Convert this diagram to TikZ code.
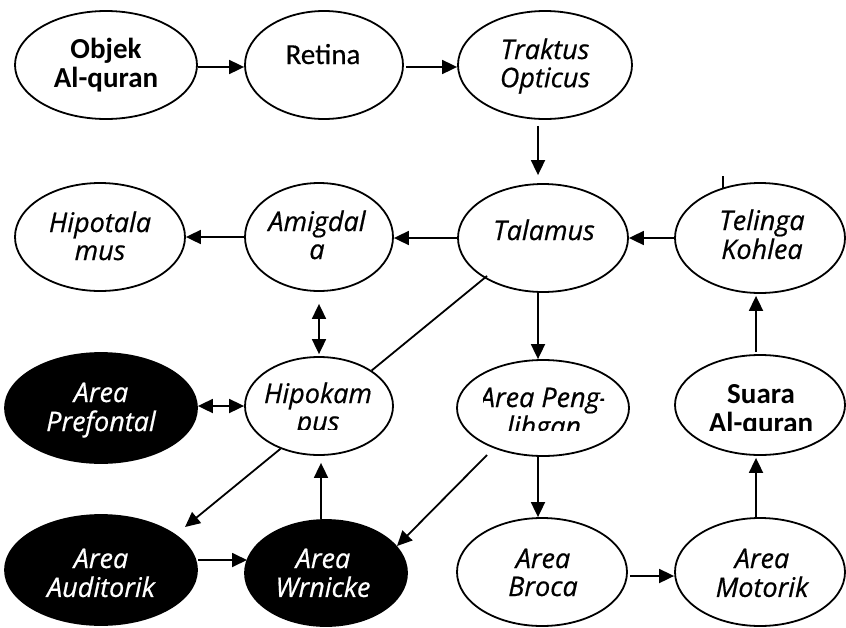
\documentclass[tikz,border=0pt]{standalone}
\usepackage{fontspec}
\setmainfont{Carlito}[UprightFeatures={FakeBold=0.4}]
\newfontfamily\osf{Open Sans}[ItalicFeatures={FakeBold=0.6}]
\usetikzlibrary{arrows.meta,calc,shapes.geometric}
\tikzset{
  ell/.style={ellipse, draw=black, line width=1.8pt, fill=white, inner sep=0pt},
  dark/.style={ell, fill=black},
  ln/.style={line width=1.8pt},
  arr/.style={ln, -{Triangle[length=15pt,width=14pt]}},
  darr/.style={ln, {Triangle[length=15pt,width=14pt]}-{Triangle[length=15pt,width=14pt]}},
  rt/.style={inner sep=0pt, anchor=base, font=\fontsize{29}{29}\selectfont},
  bt/.style={inner sep=0pt, anchor=base, font=\fontsize{29}{29}\selectfont\bfseries},
  it/.style={inner sep=0pt, anchor=base, font=\osf\itshape\fontsize{27}{28}\selectfont},
  wit/.style={it, text=white},
}
\newcommand\twol[2]{\begin{tabular}[t]{@{}c@{}}#1\\#2\end{tabular}}
\begin{document}
\begin{tikzpicture}[x=1pt,y=-1pt]
\fill[white] (0,0) rectangle (846,627);
\useasboundingbox (0,0) rectangle (846,627);

% ellipses
\node[ell, minimum width=182pt, minimum height=108pt] (objek) at (106,65) {};
\node[ell, minimum width=158pt, minimum height=108pt] (retina) at (324,65) {};
\node[ell, minimum width=174pt, minimum height=108pt] (trak) at (545,65) {};
\node[ell, minimum width=170pt, minimum height=108pt] (hipot) at (100,237) {};
\node[ell, minimum width=148pt, minimum height=108pt] (amig) at (319,237) {};
\node[ell, minimum width=170pt, minimum height=108pt] (tala) at (543,238) {};
\node[ell, minimum width=170pt, minimum height=110pt] (teli) at (760,238) {};
\node[dark, minimum width=192pt, minimum height=110pt] (pref) at (101,408) {};
\node[ell, minimum width=148pt, minimum height=98pt] (hipok) at (319,406) {};
\node[ell, minimum width=172pt, minimum height=96pt] (peng) at (543,408) {};
\node[ell, minimum width=170pt, minimum height=100pt] (suara) at (760,405) {};
\node[dark, minimum width=192pt, minimum height=110pt] (audi) at (101,570) {};
\node[dark, minimum width=162pt, minimum height=106pt] (wrn) at (326,573) {};
\node[ell, minimum width=170pt, minimum height=108pt] (broca) at (542,572) {};
\node[ell, minimum width=170pt, minimum height=108pt] (motor) at (760,572) {};

% texts
\node[bt] (t-objek) at (106,58) {\twol{Objek}{Al-quran}};
\node[rt] (t-retina) at (323,64) {Retina};
\node[it] (t-trak) at (545,59) {\twol{Traktus}{Opticus}};
\node[it] (t-hipot) at (100,232) {\twol{Hipotala}{mus}};
\node[it] (t-amig) at (317,231) {\twol{Amigdal}{a}};
\node[it] (t-tala) at (544,240) {Talamus};
\node[it] (t-teli) at (762,230) {\twol{Telinga}{Kohlea}};
\node[wit] (t-pref) at (101,402) {\twol{Area}{Prefontal}};
\begin{scope}
  \clip (240,340) rectangle (400,429);
  \node[it] (t-hipok) at (318,403) {\twol{Hipokam}{pus}};
\end{scope}
\begin{scope}
  \clip (483,340) rectangle (604,430);
  \node[it] (t-peng) at (544,407) {\twol{Area Peng-}{lihgan}};
\end{scope}
\begin{scope}
  \clip (670,340) rectangle (846,430);
  \node[bt] (t-suara) at (761,403) {\twol{Suara}{Al-quran}};
\end{scope}
\node[wit] (t-audi) at (101,568) {\twol{Area}{Auditorik}};
\node[wit] (t-wrn) at (323,568) {\twol{Area}{Wrnicke}};
\node[it] (t-broca) at (543,568) {\twol{Area}{Broca}};
\node[it] (t-motor) at (762,568) {\twol{Area}{Motorik}};

% connectors
\draw[arr] ($(objek.east)+(0,2)$) -- ($(retina.west)+(0,2)$);
\draw[arr] ($(retina.east)+(2,2)$) -- ($(trak.west)+(0,2)$);
\draw[arr] ($(trak.south)+(-7,6)$) -- ($(tala.north)+(-5,-8)$);
\draw[arr] (tala.west) -- (amig.east |- tala.west);
\draw[arr] (amig.west) -- (hipot.east);
\draw[arr] (teli.west) -- (tala.east);
\draw[darr] ($(amig.south)+(0,12)$) -- ($(hipok.north)+(0,-2)$);
\draw[darr] (pref.east |- hipok.west) -- (hipok.west);
\draw[arr] ($(tala.south)+(-5,0)$) -- ($(peng.north)+(-5,0)$);
\coordinate (tlend) at ($(tala)+(-56,38)$);
\draw[ln] (tlend) -- (hipok.34);
\draw[arr] (hipok.228) -- ($(audi)+(84,-43)$);
\draw[arr] ($(wrn.north)+(-5,0)$) -- ($(hipok.south)+(2,7)$);
\draw[arr] ($(peng)+(-56,47)$) -- ($(wrn)+(71,-27)$);
\draw[arr] ($(audi.east)+(0,-10)$) -- ($(wrn)+(-79,-13)$);
\draw[arr] ($(peng.south)+(-5,0)$) -- ($(broca.north)+(-4,0)$);
\draw[arr] ($(broca.east)+(2,4)$) -- ($(motor.west)+(0,4)$);
\draw[arr] ($(motor.north)+(-4,0)$) -- ($(suara.south)+(-4,2)$);
\draw[arr] ($(suara.north)+(-4,-2)$) -- ($(teli.south)+(-4,2)$);
\coordinate (tick) at (723,176);
\draw[ln] (tick) -- ($(teli)+(-37,-50)$);
\end{tikzpicture}
\end{document}
